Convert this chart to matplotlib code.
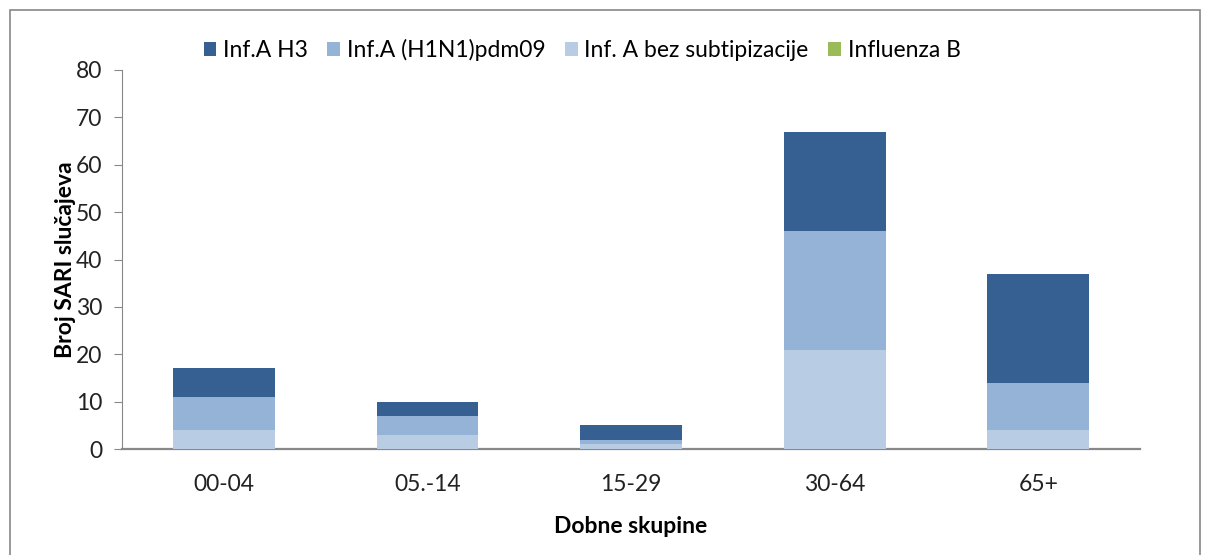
import matplotlib.pyplot as plt
import numpy as np
from matplotlib.patches import Rectangle

plt.rcParams["font.family"] = ["Lato", "DejaVu Sans"]

categories = ["00-04", "05.-14", "15-29", "30-64", "65+"]
bez_subtip = [4, 3, 1, 21, 4]
h1n1 = [7, 4, 1, 25, 10]
h3 = [6, 3, 3, 21, 23]
infl_b = [0, 0, 0, 0, 0]

C_H3 = "#366092"
C_H1 = "#95B3D7"
C_BEZ = "#B8CCE4"
C_B = "#9BBB59"

FS = 16.5


def main() -> None:
    fig = plt.figure(figsize=(12.11, 5.55), dpi=100)
    fig.patch.set_facecolor("white")
    ax = fig.add_axes([122 / 1211, 1 - 449 / 555, (1140 - 122) / 1211, (449 - 70) / 555])

    x = np.arange(len(categories))
    w = 0.5
    b1 = np.array(bez_subtip)
    b2 = b1 + np.array(h1n1)
    b3 = b2 + np.array(h3)

    ax.bar(x, bez_subtip, w, color=C_BEZ, label="Inf. A bez subtipizacije", zorder=3)
    ax.bar(x, h1n1, w, bottom=b1, color=C_H1, label="Inf.A (H1N1)pdm09", zorder=3)
    ax.bar(x, h3, w, bottom=b2, color=C_H3, label="Inf.A H3", zorder=3)
    ax.bar(x, infl_b, w, bottom=b3, color=C_B, label="Influenza B", zorder=3)

    ax.set_xlim(-0.5, len(categories) - 0.5)
    ax.set_ylim(0, 80)
    ax.set_yticks(range(0, 81, 10))
    ax.set_xticks(x)
    ax.set_xticklabels(categories)
    ax.tick_params(axis="y", direction="out", length=6, color="#888888", labelsize=FS, labelcolor="#222222", pad=8)
    ax.tick_params(axis="x", length=0, labelsize=FS, labelcolor="#222222", pad=18)

    for side in ["top", "right"]:
        ax.spines[side].set_visible(False)
    ax.spines["left"].set_color("#888888")
    ax.spines["bottom"].set_color("#888888")
    ax.spines["bottom"].set_linewidth(1.6)

    ax.set_ylabel("Broj SARI slučajeva", fontsize=FS, fontweight="bold", labelpad=0)
    ax.set_xlabel("Dobne skupine", fontsize=FS, fontweight="bold", labelpad=15)

    handles, labels = ax.get_legend_handles_labels()
    order = [2, 1, 0, 3]
    fig.legend(
        [handles[i] for i in order],
        [labels[i] for i in order],
        loc="center",
        bbox_to_anchor=(582 / 1211, 1 - 50 / 555),
        ncol=4,
        frameon=False,
        fontsize=FS,
        handlelength=0.55,
        handleheight=0.55,
        handletextpad=0.3,
        columnspacing=0.85,
    )

    fig.add_artist(
        Rectangle((10 / 1211, -0.01), (1200 - 10) / 1211, 1.01 - 10 / 555, transform=fig.transFigure,
                  fill=False, edgecolor="#888888", lw=1.2)
    )

    fig.savefig("out.png", dpi=100)
    plt.close(fig)


if __name__ == "__main__":
    main()
